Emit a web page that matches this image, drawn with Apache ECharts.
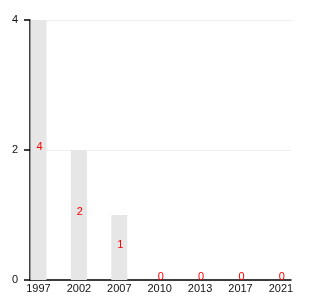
<!DOCTYPE html>
<html><head><meta charset="utf-8">
<script src="https://cdn.jsdelivr.net/npm/echarts@6/dist/echarts.min.js"></script>
<style>html,body{margin:0;padding:0;background:#fff}#c{width:330px;height:300px}</style>
</head><body><div id="c"></div>
<script>
const categories = ['1997','2002','2007','2010','2013','2017','2021'];
const values = [4, 2, 1, 0, 0, 0, 0];
const yTicks = [0, 2, 4];

const chart = echarts.init(document.getElementById('c'), null, {renderer:'canvas'});
const idx = categories.map((_, i) => i);
chart.setOption({
  animation: false,
  backgroundColor: '#fff',
  textStyle: {fontFamily: 'Liberation Sans, Arial, sans-serif'},
  grid: {left: 30, right: 39, top: 20, bottom: 20, containLabel: false},
  xAxis: {
    type: 'value', min: -0.21, max: 6.25,
    axisLine: {show: true, onZero: false, lineStyle: {color: '#000', width: 1.5}},
    axisTick: {show: false},
    splitLine: {show: false},
    axisLabel: {
      customValues: idx, color: '#111', fontSize: 11, margin: 3,
      formatter: v => categories[Math.round(v)]
    }
  },
  yAxis: {
    type: 'value', min: 0, max: 4, interval: 2,
    axisLine: {show: true, onZero: false, lineStyle: {color: '#000', width: 1.5}},
    axisTick: {show: true, inside: false, length: 6, lineStyle: {color: '#000', width: 1.5}},
    splitLine: {show: true, lineStyle: {color: '#eeeeee', width: 1}},
    axisLabel: {color: '#111', fontSize: 11, margin: 12,
      customValues: yTicks}
  },
  series: [{
    type: 'bar',
    data: values.map((v, i) => [i, v]),
    barWidth: 16,
    itemStyle: {color: '#e6e6e6'},
    label: {show: true, position: 'inside', offset: [1, -3], color: '#ff0000', fontSize: 11,
      formatter: p => String(p.value[1])}
  }]
});
</script></body></html>
